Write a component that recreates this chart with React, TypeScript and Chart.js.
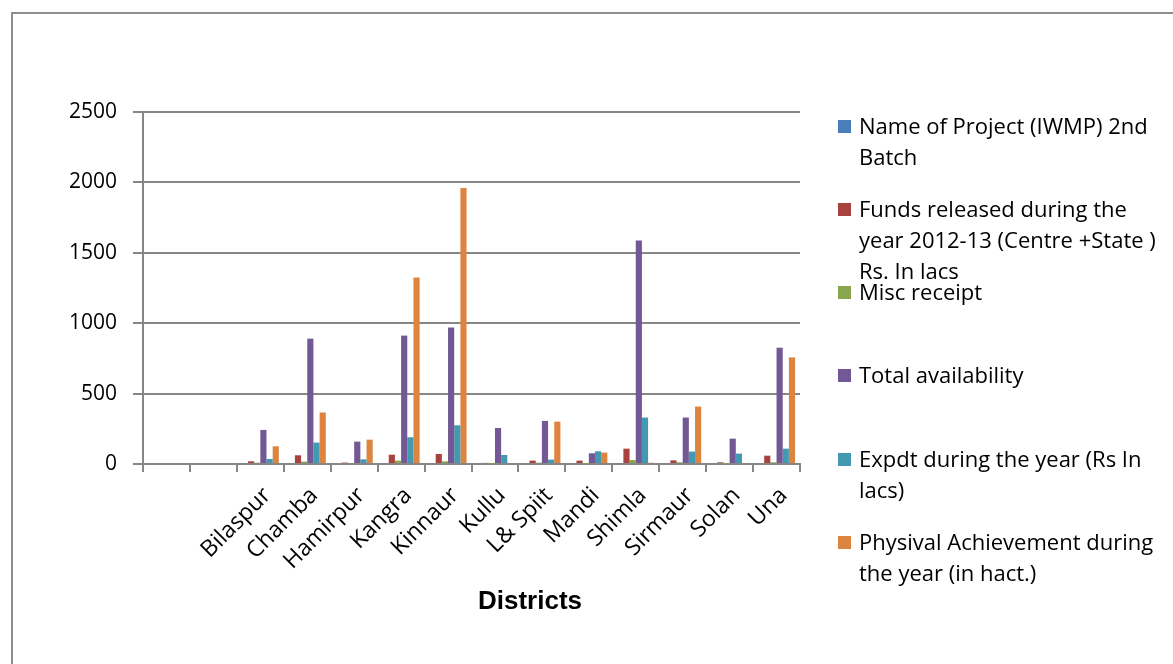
import React, { useEffect, useRef } from "react";
import { Chart, registerables } from "chart.js";

Chart.register(...registerables);

const categories = ["", "", "Bilaspur", "Chamba", "Hamirpur", "Kangra", "Kinnaur", "Kullu", "L& Spiit", "Mandi", "Shimla", "Sirmaur", "Solan", "Una"];

const projectName = [null, null, 0, 0, 0, 0, 0, 0, 0, 0, 0, 0, 0, 0];
const fundsReleased = [null, null, 19, 62, 10, 66, 71, 8, 24, 24, 109, 26, 12, 59];
const miscReceipt = [null, null, 9, 17, 5, 24, 19, 3, 9, 2, 28, 12, 3, 12];
const totalAvailability = [null, null, 242, 890, 159, 912, 969, 256, 306, 76, 1588, 330, 180, 826];
const expenditure = [null, null, 36, 152, 33, 190, 275, 64, 31, 90, 330, 88, 74, 109];
const physicalAchievement = [null, null, 126, 366, 173, 1325, 1961, 0, 301, 81, 9, 408, 0, 757];

const yTicks = [0, 500, 1000, 1500, 2000, 2500];

const seriesNames = [
  ["Name of Project (IWMP) 2nd", "Batch"],
  ["Funds released during the", "year 2012-13 (Centre +State )", "Rs. In lacs"],
  ["Misc receipt"],
  ["Total availability"],
  ["Expdt during the year (Rs In", "lacs)"],
  ["Physival Achievement during", "the year (in hact.)"],
];
const seriesColors = ["#4a7ebb", "#a8423f", "#89a54e", "#725894", "#4299b1", "#dd8540"];
const seriesData = [projectName, fundsReleased, miscReceipt, totalAvailability, expenditure, physicalAchievement];
const legendCenters = [126, 209, 292, 375, 459, 542];

const FONT = "'Open Sans', sans-serif";

export default function App() {
  const canvasRef = useRef<HTMLCanvasElement | null>(null);

  useEffect(() => {
    if (!canvasRef.current) return;
    const chart = new Chart(canvasRef.current, {
      type: "bar",
      data: {
        labels: categories,
        datasets: seriesData.map((d, i) => ({
          label: seriesNames[i].join(" "),
          data: d,
          backgroundColor: seriesColors[i],
          borderWidth: 0,
          categoryPercentage: 0.79,
          barPercentage: 1,
        })),
      },
      options: {
        animation: false,
        responsive: false,
        maintainAspectRatio: false,
        devicePixelRatio: 1,
        layout: { padding: { top: 112, right: 373, bottom: 0, left: 0 } },
        plugins: {
          legend: { display: false },
          tooltip: { enabled: false },
          title: { display: false },
        },
        scales: {
          x: {
            afterFit: (s: any) => {
              s.height = 200;
            },
            grid: {
              offset: true,
              drawOnChartArea: false,
              drawTicks: true,
              tickLength: 8,
              color: "#868686",
              lineWidth: 2,
            },
            border: { display: true, color: "#868686", width: 2 },
            ticks: {
              autoSkip: false,
              minRotation: 45,
              maxRotation: 45,
              padding: 10,
              labelOffset: 7,
              color: "#000",
              font: { family: FONT, size: 23 },
            },
          },
          y: {
            min: 0,
            max: 2500,
            afterFit: (s: any) => {
              s.width = 143;
            },
            afterBuildTicks: (s: any) => {
              s.ticks = yTicks.map((v) => ({ value: v }));
            },
            grid: {
              drawOnChartArea: true,
              drawTicks: true,
              tickLength: 10,
              color: "#868686",
              lineWidth: 2,
            },
            border: { display: true, color: "#868686", width: 2 },
            ticks: {
              padding: 16,
              color: "#000",
              font: { family: FONT, size: 21 },
              callback: (v: any) => String(v),
            },
          },
        },
      },
    });
    return () => chart.destroy();
  }, []);

  return (
    <div style={{ position: "absolute", left: 0, top: 0, width: 1173, height: 664, overflow: "hidden", background: "#fff" }}>
      <div
        style={{
          position: "absolute",
          left: 11,
          top: 12,
          width: 1250,
          height: 760,
          border: "2px solid #8e8e8e",
          boxSizing: "border-box",
        }}
      />
      <canvas ref={canvasRef} width={1173} height={664} style={{ position: "absolute", left: 0, top: 0 }} />
      <div
        style={{
          position: "absolute",
          left: 430,
          width: 200,
          top: 584,
          textAlign: "center",
          fontFamily: "'Liberation Sans', Arial, sans-serif",
          fontWeight: "bold",
          fontSize: 26,
          lineHeight: "32px",
          color: "#000",
        }}
      >
        Districts
      </div>
      {seriesNames.map((lines, i) => (
        <div key={i}>
          <div
            style={{
              position: "absolute",
              left: 838,
              top: legendCenters[i] - 6,
              width: 13,
              height: 13,
              background: seriesColors[i],
            }}
          />
          <div
            style={{
              position: "absolute",
              left: 859,
              top: legendCenters[i] - 16,
              fontFamily: FONT,
              fontSize: 22,
              lineHeight: "31px",
              color: "#000",
              whiteSpace: "nowrap",
            }}
          >
            {lines.map((l, j) => (
              <div key={j}>{l}</div>
            ))}
          </div>
        </div>
      ))}
    </div>
  );
}
